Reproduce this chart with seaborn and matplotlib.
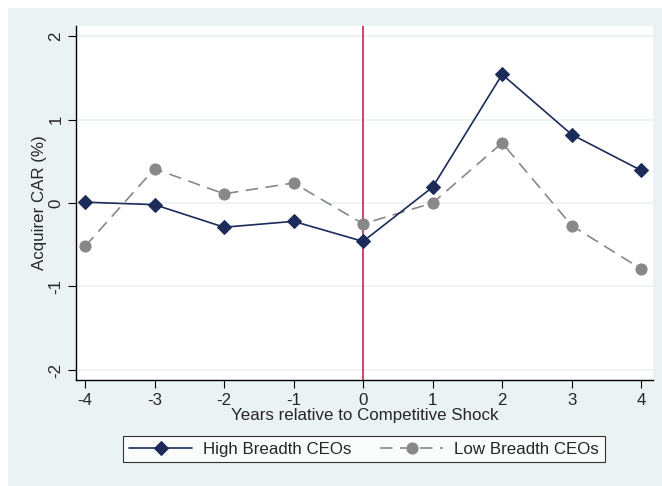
import pandas as pd
import numpy as np
import matplotlib
matplotlib.use("Agg")
import matplotlib.pyplot as plt
import seaborn as sns
from matplotlib.patches import Rectangle

# data
years = [-4, -3, -2, -1, 0, 1, 2, 3, 4]
high_breadth = [0.01, -0.02, -0.29, -0.22, -0.46, 0.19, 1.54, 0.82, 0.39]
low_breadth = [-0.52, 0.41, 0.11, 0.24, -0.25, 0.0, 0.72, -0.27, -0.79]
y_ticks = [-2, -1, 0, 1, 2]

sns.set_style("white")
plt.rcParams['font.family'] = ['Liberation Sans', 'DejaVu Sans']
plt.rcParams['axes.unicode_minus'] = False

bg = "#EAF2F3"
navy = "#1C2B5A"
gray = "#888888"

fig = plt.figure(figsize=(6.62, 4.86), dpi=100)
fig.patch.set_facecolor("white")
fig.patches.append(Rectangle((8 / 662, 0), 1, 1 - 8 / 486, transform=fig.transFigure,
                             facecolor=bg, edgecolor="none", zorder=-10))

ax = fig.add_axes([76 / 662, 1 - 380 / 486, (653 - 76) / 662, (380 - 26) / 486])
ax.set_facecolor("white")

# reference line at the shock
ax.axvline(0, color="#C0143C", lw=1.1, zorder=1)

sns.lineplot(x=years, y=high_breadth, ax=ax, color=navy, lw=1.2, marker="D",
             markersize=7.5, markeredgecolor=navy, label="High Breadth CEOs", zorder=3)
sns.lineplot(x=years, y=low_breadth, ax=ax, color=gray, lw=1.2, marker="o",
             markersize=8, markeredgecolor=gray,
             label="Low Breadth CEOs", zorder=2)
ax.lines[-1].set_dashes((7.5, 4.5))

ax.set_xlim(-4.13, 4.17)
ax.set_ylim(-2.12, 2.12)
ax.set_xticks(years)
ax.set_yticks(y_ticks)
ax.set_yticklabels([str(t) for t in y_ticks], rotation=90, va="center")
ax.yaxis.grid(True, color=bg, lw=1.2)
ax.set_axisbelow(True)

for s in ["top", "right"]:
    ax.spines[s].set_visible(False)
for s in ["left", "bottom"]:
    ax.spines[s].set_color("black")
    ax.spines[s].set_linewidth(1.0)

ax.tick_params(axis="both", which="major", direction="out", length=6, width=0.8,
               color="black", labelsize=12.2, left=True, bottom=True, pad=3)
ax.set_xlabel("Years relative to Competitive Shock", fontsize=12.2, labelpad=0)
ax.set_ylabel("Acquirer CAR (%)", fontsize=12.2, labelpad=1)

handles, labels = ax.get_legend_handles_labels()
ax.get_legend().remove()
leg = fig.legend(handles, labels, loc="center", bbox_to_anchor=(364 / 662, 1 - 449 / 486),
                 ncol=2, frameon=True, fancybox=False, fontsize=12.2, handlelength=3.7,
                 columnspacing=1.7, borderpad=0.35, handletextpad=0.65, borderaxespad=0)
leg.get_frame().set_edgecolor("black")
leg.get_frame().set_linewidth(0.8)
leg.get_frame().set_facecolor("white")

fig.savefig("out.png", dpi=100, facecolor=fig.get_facecolor())
